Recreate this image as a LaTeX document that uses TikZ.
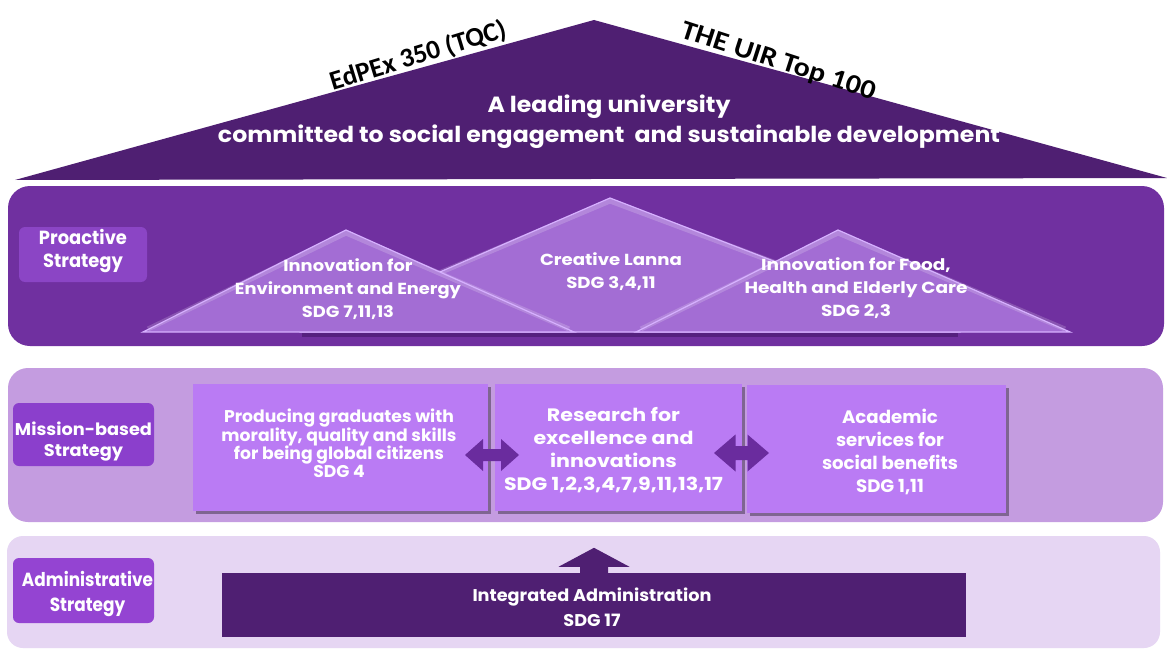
\documentclass[tikz,border=0pt]{standalone}
\usepackage{fontspec}
\usepackage{graphicx}
\newfontfamily\gf{Poppins}
\newfontfamily\cf{Carlito}
\usetikzlibrary{shadows}
\newcommand\wb[2]{\resizebox{#1}{\height}{\vtop{\lineskiplimit=-100pt\lineskip=0pt\halign{\hfil##\hfil\cr#2\crcr}}}}
\definecolor{roofc}{HTML}{4F1F72}
\definecolor{proc}{HTML}{7030A0}
\definecolor{prolab}{HTML}{8B45C5}
\definecolor{tric}{HTML}{A36DD4}
\definecolor{triedge}{HTML}{D6B0FF}
\definecolor{trishadow}{HTML}{55207F}
\definecolor{misc}{HTML}{C49CE0}
\definecolor{mislab}{HTML}{8B3FCC}
\definecolor{boxc}{HTML}{BA7BF4}
\definecolor{arrc}{HTML}{6A2C9E}
\definecolor{admc}{HTML}{E6D6F3}
\definecolor{admlab}{HTML}{9444D2}
\tikzset{
  tx/.style={text=white, inner sep=0pt, anchor=base},
  lab/.style={rounded corners=6pt, inner sep=0pt},
  mbox/.style={fill=boxc, inner sep=0pt, drop shadow={shadow xshift=2.5pt, shadow yshift=-2.5pt, fill=black, opacity=0.35}},
  tri/.style={fill=tric},
  triglow/.style={draw=white, draw opacity=0.18, line width=5pt, line join=miter},
  triline/.style={draw=triedge, line width=1.2pt, line join=miter},
  blockarrow/.style={fill=arrc},
}
\begin{document}
\begin{tikzpicture}[x=1pt,y=-1pt]
\useasboundingbox (0,0) rectangle (1167,650);
\fill[white] (0,0) rectangle (1167,650);
% bands
\fill[proc, rounded corners=22pt] (8,186) rectangle (1164,346);
\fill[misc, rounded corners=20pt] (8,368) rectangle (1163,522);
\fill[admc, rounded corners=16pt] (7,536) rectangle (1160,648);
% roof
\fill[roofc] (15,180) -- (594,20) -- (1167,178) -- cycle;
\node[tx, font={\gf\bfseries\fontsize{22}{29}\selectfont}] (vision) at (609,113)
  {\wb{782pt}{A leading university\cr committed to social engagement\ \ and sustainable development}};
\node[inner sep=0pt, rotate=17, font={\cf\bfseries\fontsize{27}{30}\selectfont}] (edpex) at (418,56)
  {\resizebox{183pt}{\height}{EdPEx 350 (TQC)}};
\node[inner sep=0pt, rotate=-18, font={\cf\bfseries\fontsize{27}{30}\selectfont}] (uir) at (778,62)
  {\resizebox{203pt}{\height}{THE UIR Top 100}};
% labels
\node[lab, fill=prolab, minimum width=128pt, minimum height=55pt] (plab) at (83,254.5) {};
\node[tx, font={\gf\bfseries\fontsize{19}{23}\selectfont}] (plabt) at (83,244) {\wb{88pt}{Proactive\cr Strategy}};
\node[lab, fill=mislab, minimum width=141pt, minimum height=63pt] (mlab) at (83.5,434.5) {};
\node[tx, font={\gf\bfseries\fontsize{17}{21.7}\selectfont}] (mlabt) at (83.5,435) {\wb{137pt}{Mission-based\cr Strategy}};
\node[lab, fill=admlab, minimum width=141pt, minimum height=65pt] (alab) at (83.5,590.5) {};
\node[tx, font={\gf\bfseries\fontsize{19}{25}\selectfont}] (alabt) at (87.5,586.7) {\wb{131pt}{Administrative\cr Strategy}};
% triangles
\draw[trishadow, line width=3.5pt] (302,335) -- (958,335);
\fill[tri] (302,332) -- (610,198) -- (958,332) -- cycle;
\draw[triglow] (306,329) -- (610,201) -- (953,329);
\draw[triline] (302,332) -- (610,198) -- (958,332) -- cycle;
\fill[tri] (143,332) -- (346,230) -- (574,332) -- cycle;
\draw[triglow] (148,329) -- (346,233) -- (569,329);
\draw[triline] (143,332) -- (346,230) -- (574,332) -- cycle;
\fill[tri] (636,332) -- (838,230) -- (1070,332) -- cycle;
\draw[triglow] (641,329) -- (838,233) -- (1065,329);
\draw[triline] (636,332) -- (838,230) -- (1070,332) -- cycle;
\node[tx, font={\gf\bfseries\fontsize{16}{23}\selectfont}] (t1) at (348,271) {\wb{226pt}{Innovation for\cr Environment and Energy\cr SDG 7,11,13}};
\node[tx, font={\gf\bfseries\fontsize{16}{23}\selectfont}] (t2) at (611,265) {\wb{142pt}{Creative Lanna\cr SDG 3,4,11}};
\node[tx, font={\gf\bfseries\fontsize{16}{23}\selectfont}] (t3) at (856,270.7) {\wb{223pt}{Innovation for Food,\cr Health and Elderly Care\cr SDG 2,3}};
% mission boxes
\node[mbox, minimum width=295pt, minimum height=127pt] (b1) at (340.5,447.5) {};
\node[mbox, minimum width=247pt, minimum height=127pt] (b2) at (618.5,447.5) {};
\node[mbox, minimum width=259pt, minimum height=128pt] (b3) at (876.5,449) {};
\node[tx, font={\gf\bfseries\fontsize{17}{18.3}\selectfont}] (b1t) at (339,422.7) {\wb{235pt}{Producing graduates with\cr morality, quality and skills\cr for being global citizens\cr SDG 4}};
\node[tx, font={\gf\bfseries\fontsize{18}{23}\selectfont}] (b2t) at (613.5,421) {\wb{219pt}{Research for\cr excellence and\cr innovations\cr SDG 1,2,3,4,7,9,11,13,17}};
\node[tx, font={\gf\bfseries\fontsize{18}{23}\selectfont}] (b3t) at (890,423) {\wb{136pt}{Academic\cr services for\cr social benefits\cr SDG 1,11}};
% double arrows between the mission boxes
\coordinate (a12) at (492,455);
\coordinate (a23) at (741.5,453);
\fill[blockarrow, shift={(a12)}] (-27,0) -- (-9,-16) -- (-9,-6) -- (9,-6) -- (9,-16) -- (27,0) -- (9,16) -- (9,6) -- (-9,6) -- (-9,16) -- cycle;
\fill[blockarrow, shift={(a23)}] (-27.5,0) -- (-6,-18.5) -- (-6,-7) -- (6,-7) -- (6,-18.5) -- (27.5,0) -- (6,18.5) -- (6,7) -- (-6,7) -- (-6,18.5) -- cycle;
% administration
\node[fill=roofc, inner sep=0pt, minimum width=744pt, minimum height=64pt] (adm) at (594,605) {};
\node[tx, font={\gf\bfseries\fontsize{17}{24.5}\selectfont}] (admt) at (592,601.7) {\wb{239pt}{Integrated Administration\cr SDG 17}};
\fill[roofc, shift={(adm.north)}] (-14,0.5) -- (-14,-6) -- (-35.5,-6) -- (0,-25) -- (35.5,-6) -- (14,-6) -- (14,0.5) -- cycle;
\end{tikzpicture}
\end{document}
